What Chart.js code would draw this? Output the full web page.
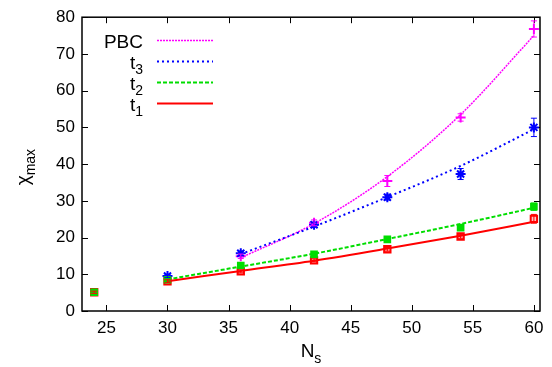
<!DOCTYPE html>
<html>
<head>
<meta charset="utf-8">
<script src="https://cdn.jsdelivr.net/npm/chart.js@4.4.1/dist/chart.umd.min.js"></script>
<style>
  html, body { margin: 0; padding: 0; background: #fff; }
  #wrap { width: 552px; height: 367px; }
</style>
</head>
<body>
<div id="wrap"><canvas id="chi"></canvas></div>
<script>
// measured points (N_s, chi_max, error)
var ns1 = [24, 30, 36, 42, 48, 54, 60];
var t1Vals = [5.1, 8.1, 10.8, 13.8, 16.8, 20.3, 25.1];
var t1Errs = [0.3, 0.4, 0.4, 0.4, 0.5, 0.5, 1.2];
var t2Vals = [5.1, 8.5, 12.4, 15.4, 19.5, 22.7, 28.4];
var t2Errs = [0.3, 0.3, 0.5, 0.5, 0.6, 0.7, 1.0];
var ns3 = [30, 36, 42, 48, 54, 60];
var t3Vals = [9.5, 15.7, 23.5, 31.0, 37.3, 50.0];
var t3Errs = [0.4, 0.6, 0.7, 0.8, 1.5, 2.5];
var nsPBC = [36, 42, 48, 54, 60];
var pbcVals = [14.9, 24.0, 35.4, 52.7, 76.8];
var pbcErrs = [0.6, 0.8, 1.5, 1.0, 2.2];

// fit curves
var fitNs12 = [30, 36, 42, 48, 54, 60];
var fitT1 = [8.1, 10.9, 13.7, 17.0, 20.5, 24.3];
var fitT2 = [8.6, 12.1, 15.6, 19.6, 23.7, 28.1];
var fitNs3 = [36, 42, 48, 54, 60];
var fitT3 = [15.5, 23.0, 31.0, 39.5, 49.5];
var fitPBC = [14.5, 23.8, 36.6, 53.5, 75.0];

var xTicks = [25, 30, 35, 40, 45, 50, 55, 60];
var yTicks = [0, 10, 20, 30, 40, 50, 60, 70, 80];

var FONT = "'Liberation Sans', Arial, sans-serif";

function pts(xs, ys) {
  var out = [];
  for (var i = 0; i < xs.length; i++) out.push({x: xs[i], y: ys[i]});
  return out;
}

function fitSet(xs, ys, color, width, dash) {
  return {
    data: pts(xs, ys), showLine: true, pointRadius: 0, borderColor: color,
    borderWidth: width, borderDash: dash, cubicInterpolationMode: 'monotone', fill: false
  };
}

function markSet(xs, ys, errs, color, style, fillCol, radius) {
  return {
    data: pts(xs, ys), errs: errs, showLine: false, pointStyle: style,
    pointRadius: radius, borderColor: color, backgroundColor: fillCol,
    borderWidth: 2
  };
}

// text with a subscript
function subText(ctx, main, sub, x, y, size, align) {
  ctx.font = size + "px " + FONT;
  var w1 = ctx.measureText(main).width;
  ctx.font = Math.round(size * 0.72) + "px " + FONT;
  var w2 = sub ? ctx.measureText(sub).width : 0;
  var start = x;
  if (align == 'right') start = x - w1 - w2;
  if (align == 'center') start = x - (w1 + w2) / 2;
  ctx.textAlign = 'left';
  ctx.textBaseline = 'alphabetic';
  ctx.font = size + "px " + FONT;
  ctx.fillText(main, start, y);
  if (sub) {
    ctx.font = Math.round(size * 0.72) + "px " + FONT;
    ctx.fillText(sub, start + w1, y + size * 0.3);
  }
}

var decor = {
  id: 'decor',
  beforeDatasetsDraw: function(chart) {
    var ctx = chart.ctx, a = chart.chartArea;
    var xs = chart.scales.x, ys = chart.scales.y;
    ctx.save();
    ctx.strokeStyle = '#000';
    ctx.lineWidth = 1;
    ctx.beginPath();
    xTicks.forEach(function(v) {
      var px = Math.round(xs.getPixelForValue(v)) + 0.5;
      ctx.moveTo(px, a.bottom); ctx.lineTo(px, a.bottom - 6);
      ctx.moveTo(px, a.top); ctx.lineTo(px, a.top + 6);
    });
    yTicks.forEach(function(v) {
      var py = Math.round(ys.getPixelForValue(v)) + 0.5;
      ctx.moveTo(a.left, py); ctx.lineTo(a.left + 6, py);
      ctx.moveTo(a.right, py); ctx.lineTo(a.right - 6, py);
    });
    ctx.stroke();
    ctx.restore();
  },
  afterDatasetsDraw: function(chart) {
    var ctx = chart.ctx, a = chart.chartArea;
    var xs = chart.scales.x, ys = chart.scales.y;
    ctx.save();
    // error bars
    chart.data.datasets.forEach(function(ds) {
      if (!ds.errs) return;
      ctx.strokeStyle = ds.borderColor;
      ctx.lineWidth = 1;
      ds.data.forEach(function(p, i) {
        var px = xs.getPixelForValue(p.x);
        var lo = ys.getPixelForValue(p.y - ds.errs[i]);
        var hi = ys.getPixelForValue(p.y + ds.errs[i]);
        ctx.beginPath();
        ctx.moveTo(px, lo); ctx.lineTo(px, hi);
        ctx.moveTo(px - 3, lo); ctx.lineTo(px + 3, lo);
        ctx.moveTo(px - 3, hi); ctx.lineTo(px + 3, hi);
        ctx.stroke();
      });
    });
    // frame
    ctx.strokeStyle = '#000';
    ctx.lineWidth = 1.5;
    ctx.strokeRect(a.left, a.top, a.right - a.left, a.bottom - a.top);
    // legend
    ctx.fillStyle = '#000';
    var rows = [
      ['PBC', '', '#ff00ff', 1.5, [2, 1]],
      ['t', '3', '#0000ff', 2, [2, 3]],
      ['t', '2', '#00dd00', 2, [4, 2]],
      ['t', '1', '#ff0000', 2, []]
    ];
    rows.forEach(function(r, i) {
      var y = 40.5 + i * 21;
      ctx.fillStyle = '#000';
      subText(ctx, r[0], r[1], 143, y + 7, 19, 'right');
      ctx.strokeStyle = r[2];
      ctx.lineWidth = r[3];
      ctx.setLineDash(r[4]);
      ctx.beginPath();
      ctx.moveTo(157, y); ctx.lineTo(213, y);
      ctx.stroke();
    });
    ctx.setLineDash([]);
    // axis titles
    ctx.fillStyle = '#000';
    subText(ctx, 'N', 's', (a.left + a.right) / 2, 357, 19, 'center');
    ctx.translate(29, (a.top + a.bottom) / 2 + 3);
    ctx.rotate(-Math.PI / 2);
    subText(ctx, '\u03c7', 'max', 0, 0, 19, 'center');
    ctx.restore();
  }
};

new Chart(document.getElementById('chi'), {
  type: 'scatter',
  data: {
    datasets: [
      fitSet(fitNs12, fitT1, '#ff0000', 2, []),
      fitSet(fitNs12, fitT2, '#00dd00', 2, [4, 2]),
      fitSet(fitNs3, fitT3, '#0000ff', 2, [2, 3]),
      fitSet(nsPBC, fitPBC, '#ff00ff', 1.5, [2, 1]),
      markSet(ns1, t2Vals, t2Errs, '#00dd00', 'rect', '#00dd00', 4),
      markSet(ns1, t1Vals, t1Errs, '#ff0000', 'rect', 'rgba(255,140,140,0.5)', 4.5),
      markSet(ns3, t3Vals, t3Errs, '#0000ff', 'star', '#0000ff', 5),
      markSet(nsPBC, pbcVals, pbcErrs, '#ff00ff', 'cross', '#ff00ff', 5)
    ]
  },
  options: {
    responsive: true,
    maintainAspectRatio: false,
    animation: false,
    layout: { padding: { top: 15, right: 12, left: 0, bottom: 0 } },
    plugins: { legend: { display: false }, tooltip: { enabled: false } },
    scales: {
      x: {
        type: 'linear', min: 23, max: 60.5,
        afterBuildTicks: function(s) { s.ticks = xTicks.map(function(v) { return {value: v}; }); },
        afterFit: function(s) { s.height = 56; },
        grid: { display: false, drawTicks: false },
        border: { display: false },
        ticks: { padding: 7, color: '#000', font: { family: FONT, size: 17 } }
      },
      y: {
        type: 'linear', min: 0, max: 80,
        afterBuildTicks: function(s) { s.ticks = yTicks.map(function(v) { return {value: v}; }); },
        afterFit: function(s) { s.width = 82; },
        grid: { display: false, drawTicks: false },
        border: { display: false },
        ticks: { padding: 7, color: '#000', font: { family: FONT, size: 17 } }
      }
    }
  },
  plugins: [decor]
});
</script>
</body>
</html>
